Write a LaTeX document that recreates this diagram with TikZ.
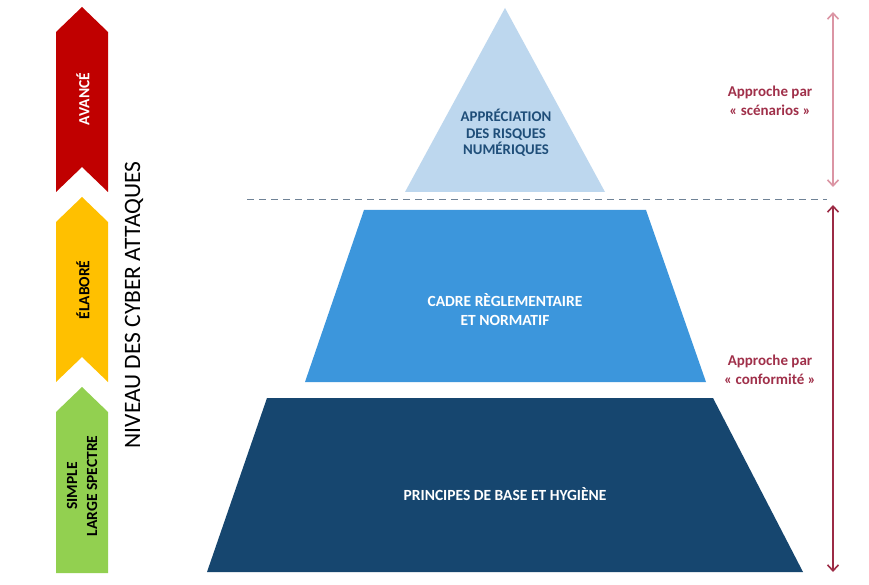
\documentclass[tikz,border=0pt]{standalone}
\usepackage{fontspec}
\setmainfont{Carlito}
\usetikzlibrary{arrows.meta}
\definecolor{cred}{HTML}{C00000}
\definecolor{cyel}{HTML}{FFC000}
\definecolor{cgreen}{HTML}{92D050}
\definecolor{ptop}{HTML}{BDD7EE}
\definecolor{pmid}{HTML}{3C96DC}
\definecolor{pbot}{HTML}{16466F}
\definecolor{ttop}{HTML}{1F4E79}
\definecolor{lbl}{HTML}{A0304A}
\definecolor{arpink}{HTML}{DB95A4}
\definecolor{ardark}{HTML}{9C2B45}
\definecolor{dashc}{HTML}{6F8296}
\tikzset{
  lvltext/.style={font=\fontsize{15.5}{20}\selectfont\bfseries, rotate=90, align=center, inner sep=0pt},
  pyrtext/.style={font=\fontsize{15.5}{19}\selectfont\bfseries, align=center, inner sep=0pt},
  toptext/.style={font=\fontsize{14.8}{16.7}\selectfont\bfseries, align=center, inner sep=0pt},
  apptext/.style={font=\fontsize{15}{19}\selectfont\bfseries, align=center, text=lbl, inner sep=0pt},
  dbl/.style={line width=1.6pt, {Straight Barb[length=6pt,width=11pt,line width=1.6pt]}-{Straight Barb[length=6pt,width=11pt,line width=1.6pt]}}
}
\begin{document}
\begin{tikzpicture}[x=1pt,y=-1pt]
\useasboundingbox (0,0) rectangle (869,585);
\fill[white] (0,0) rectangle (869,585);
% chevrons
\fill[cred] (82,7) -- (108,32) -- (108,192) -- (82,167) -- (56,192) -- (56,32) -- cycle;
\fill[cyel] (82,197) -- (108,222) -- (108,382) -- (82,357) -- (56,382) -- (56,222) -- cycle;
\fill[cgreen] (82,387) -- (108,412) -- (108,573) -- (56,573) -- (56,412) -- cycle;
\node[lvltext, text=white] (avance) at (83,99) {AVANCÉ};
\node[lvltext, text=black] (elabore) at (83,290) {ÉLABORÉ};
\node[lvltext, text=black] (simple) at (82,486) {SIMPLE\\LARGE SPECTRE};
\node[rotate=90, inner sep=0pt, font=\fontsize{23.5}{26}\selectfont] (niveau) at (134,305) {NIVEAU DES CYBER ATTAQUES};
% pyramid
\fill[ptop] (505,8) -- (605,192) -- (405,192) -- cycle;
\fill[pmid] (364,210) -- (646,210) -- (706,382) -- (305,382) -- cycle;
\fill[pbot] (267,398) -- (713,398) -- (803,572) -- (207,572) -- cycle;
\draw[dashc, line width=1pt, dash pattern=on 7pt off 5pt] (247,200) -- (827,200);
\node[toptext, text=ttop] (appr) at (506,133) {APPRÉCIATION\\DES RISQUES\\NUMÉRIQUES};
\node[pyrtext, text=white] (cadre) at (505,310) {CADRE RÈGLEMENTAIRE\\ET NORMATIF};
\node[pyrtext, text=white] (princ) at (505,494) {PRINCIPES DE BASE ET HYGIÈNE};
% arrows
\coordinate (a1) at (833,12);
\coordinate (a2) at (833,187);
\coordinate (b1) at (833,205);
\coordinate (b2) at (833,572);
\draw[dbl, arpink] (a1) -- (a2);
\draw[dbl, ardark] (b1) -- (b2);
\node[apptext] (scen) at (770,101) {Approche par\\« scénarios »};
\node[apptext] (conf) at (770,370) {Approche par\\« conformité »};
\end{tikzpicture}
\end{document}
